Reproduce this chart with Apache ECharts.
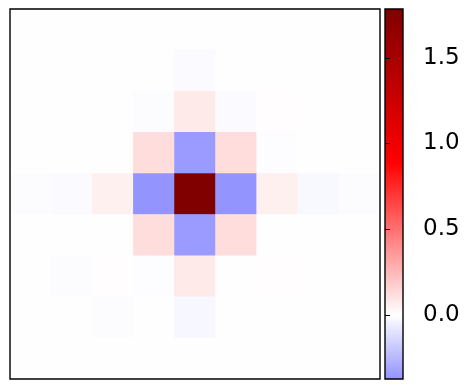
<!DOCTYPE html>
<html>
<head>
<meta charset="utf-8">
<script src="https://cdn.jsdelivr.net/npm/echarts@6/dist/echarts.min.js"></script>
<style>
  html, body { margin: 0; padding: 0; background: #fff; }
  #chart { width: 470px; height: 389px; }
</style>
</head>
<body>
<div id="chart"></div>
<script>
// 9x9 values, row 0 = top
const values = [
  [0, 0, 0, 0, 0, 0, 0, 0, 0],
  [0, 0, 0, 0, -0.015, 0, 0, 0, 0],
  [0, 0, 0, -0.01, 0.075, -0.018, 0.005, 0, 0],
  [0, 0, 0, 0.12, -0.35, 0.12, -0.008, 0, 0],
  [-0.01, -0.02, 0.055, -0.375, 1.785, -0.375, 0.055, -0.025, -0.01],
  [0, 0, 0, 0.12, -0.35, 0.12, 0, 0, 0],
  [0, -0.01, 0.005, -0.008, 0.075, 0, 0.005, 0, 0],
  [0, 0, -0.012, 0, -0.03, 0, 0, 0, 0],
  [0, 0, 0, 0, 0, 0, 0, 0, 0]
];
const cbarMin = -0.375;
const cbarMax = 1.785;
const cbarTicks = [0, 0.5, 1.0, 1.5];

// matplotlib "seismic", symmetric norm around 0
const seismicStops = [
  [0, [0, 0, 0.3]],
  [0.25, [0, 0, 1]],
  [0.5, [1, 1, 1]],
  [0.75, [1, 0, 0]],
  [1, [0.5, 0, 0]]
];
function seismic(v) {
  let f = 0.5 + v / (2 * cbarMax);
  f = Math.max(0, Math.min(1, f));
  for (let i = 1; i < seismicStops.length; i++) {
    const [f1, c1] = seismicStops[i];
    const [f0, c0] = seismicStops[i - 1];
    if (f <= f1) {
      const t = (f - f0) / (f1 - f0);
      const c = c0.map((a, k) => Math.round(255 * (a + (c1[k] - a) * t)));
      return 'rgb(' + c.join(',') + ')';
    }
  }
  return 'rgb(128,0,0)';
}

const N = 120;
const rampColors = [];
const gradStops = [];
for (let i = 0; i <= N; i++) {
  const v = cbarMin + (cbarMax - cbarMin) * i / N;
  const c = seismic(v);
  rampColors.push(c);
  gradStops.push({ offset: i / N, color: c });
}

const cells = [];
values.forEach((row, r) => row.forEach((v, c) => cells.push([c, r, v])));
const idx = values.map((_, i) => i);

const plotBox = { x: 10, y: 9, w: 370, h: 370 };
const cbarBox = { x: 385, y: 9, w: 18, h: 370 };

const chart = echarts.init(document.getElementById('chart'));
chart.setOption({
  animation: false,
  grid: [
    { left: plotBox.x, top: plotBox.y, width: plotBox.w, height: plotBox.h, show: false },
    { left: cbarBox.x, top: cbarBox.y, width: cbarBox.w, height: cbarBox.h, show: true,
      borderWidth: 0,
      backgroundColor: { type: 'linear', x: 0, y: 1, x2: 0, y2: 0, colorStops: gradStops } }
  ],
  xAxis: [
    { type: 'category', data: idx, gridIndex: 0, show: false },
    { type: 'value', gridIndex: 1, show: false, min: 0, max: 1 }
  ],
  yAxis: [
    { type: 'category', data: idx, gridIndex: 0, show: false, inverse: true },
    { type: 'value', gridIndex: 1, position: 'right', min: cbarMin, max: cbarMax,
      axisLine: { show: false },
      splitLine: { show: false },
      axisTick: { show: true, length: 5, customValues: cbarTicks,
        lineStyle: { color: '#000', width: 1 } },
      axisLabel: { show: true, customValues: cbarTicks, margin: 20,
        color: '#000', fontSize: 23, fontFamily: 'DejaVu Sans',
        formatter: v => v.toFixed(1) } }
  ],
  visualMap: {
    show: false,
    type: 'continuous',
    min: cbarMin,
    max: cbarMax,
    seriesIndex: 0,
    inRange: { color: rampColors }
  },
  // frames drawn on top of the cells
  graphic: [
    { type: 'rect', z: 100, silent: true,
      shape: { x: plotBox.x, y: plotBox.y, width: plotBox.w, height: plotBox.h },
      style: { fill: null, stroke: '#000', lineWidth: 1.4 } },
    { type: 'rect', z: 100, silent: true,
      shape: { x: cbarBox.x, y: cbarBox.y, width: cbarBox.w, height: cbarBox.h },
      style: { fill: null, stroke: '#000', lineWidth: 1.4 } }
  ],
  series: [
    { type: 'heatmap', xAxisIndex: 0, yAxisIndex: 0, data: cells,
      itemStyle: { borderWidth: 0 }, emphasis: { disabled: true } }
  ]
});
</script>
</body>
</html>
